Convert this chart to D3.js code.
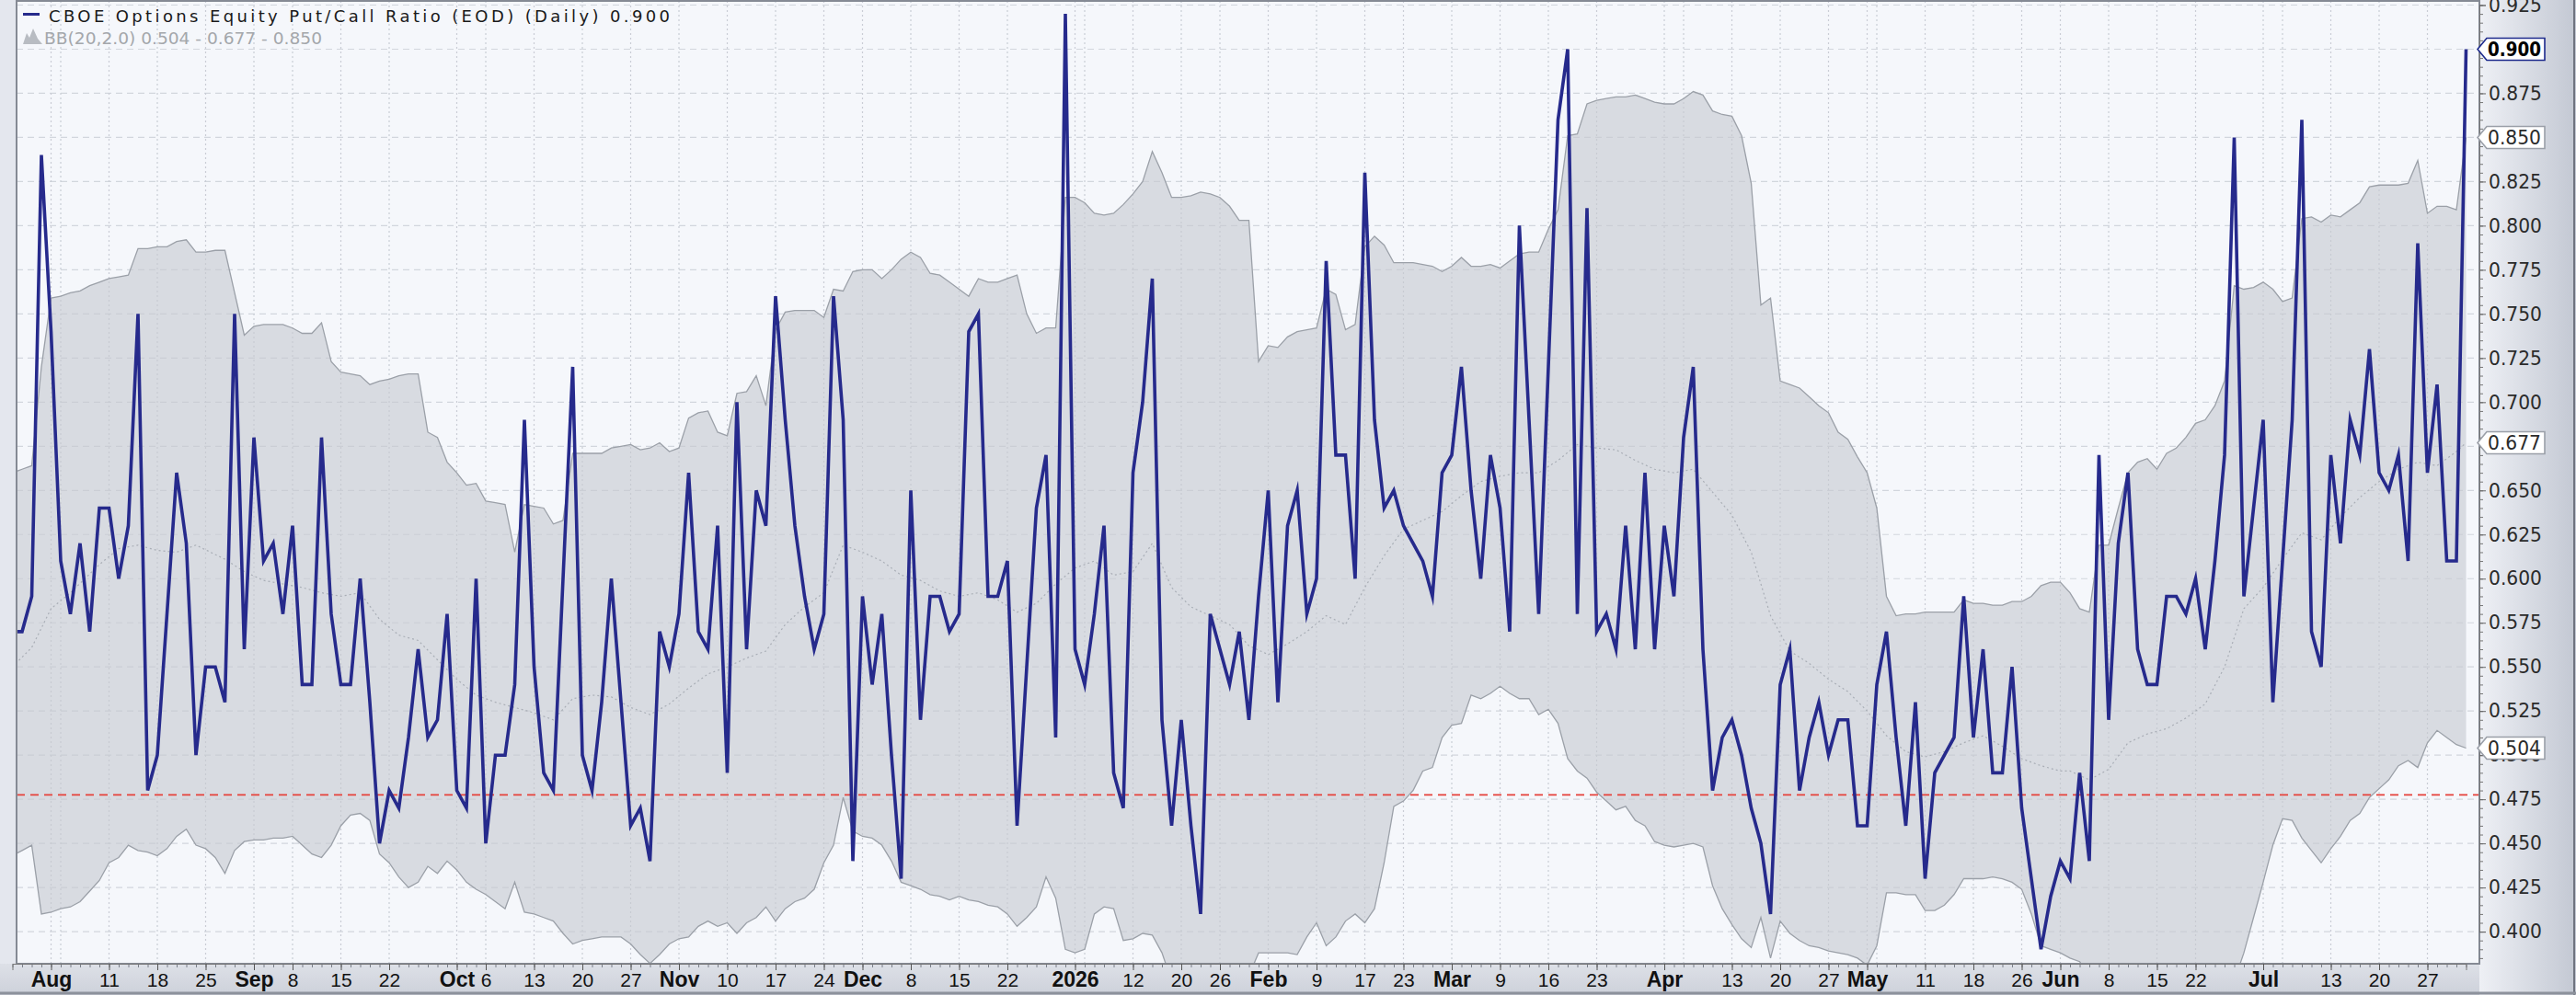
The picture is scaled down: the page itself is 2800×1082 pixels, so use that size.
<!DOCTYPE html>
<html>
<head>
<meta charset="utf-8">
<script src="https://cdn.jsdelivr.net/npm/d3@7"></script>
<style>
  body { margin: 0; background: #dfe2e9; }
  svg { display: block; }
</style>
</head>
<body>
<svg id="chart" width="2800" height="1082"></svg>
<script>
// daily equity put/call ratio, 28 Jul 2025 .. 31 Jul 2026 (trading days)
const ratio = [
  0.57,0.57,0.59,0.84,0.74,0.61,0.58,0.62,0.57,0.64, 0.64,0.60,0.63,0.75,0.48,0.50,0.58,0.66,0.62,0.50,
  0.55,0.55,0.53,0.75,0.56,0.68,0.61,0.62,0.58,0.63, 0.54,0.54,0.68,0.58,0.54,0.54,0.60,0.53,0.45,0.48,
  0.47,0.51,0.56,0.51,0.52,0.58,0.48,0.47,0.60,0.45, 0.50,0.50,0.54,0.69,0.55,0.49,0.48,0.60,0.72,0.50,
  0.48,0.53,0.60,0.53,0.46,0.47,0.44,0.57,0.55,0.58, 0.66,0.57,0.56,0.63,0.49,0.70,0.56,0.65,0.63,0.76,
  0.69,0.63,0.59,0.56,0.58,0.76,0.69,0.44,0.59,0.54, 0.58,0.50,0.43,0.65,0.52,0.59,0.59,0.57,0.58,0.74,
  0.75,0.59,0.59,0.61,0.46,0.55,0.64,0.67,0.51,0.92, 0.56,0.54,0.58,0.63,0.49,0.47,0.66,0.70,0.77,0.52,
  0.46,0.52,0.46,0.41,0.58,0.56,0.54,0.57,0.52,0.59, 0.65,0.53,0.63,0.65,0.58,0.60,0.78,0.67,0.67,0.60,
  0.83,0.69,0.64,0.65,0.63,0.62,0.61,0.59,0.66,0.67, 0.72,0.65,0.60,0.67,0.64,0.57,0.80,0.69,0.58,0.72,
  0.86,0.90,0.58,0.81,0.57,0.58,0.56,0.63,0.56,0.66, 0.56,0.63,0.59,0.68,0.72,0.56,0.48,0.51,0.52,0.50,
  0.47,0.45,0.41,0.54,0.56,0.48,0.51,0.53,0.50,0.52, 0.52,0.46,0.46,0.54,0.57,0.51,0.46,0.53,0.43,0.49,
  0.50,0.51,0.59,0.51,0.56,0.49,0.49,0.55,0.47,0.43, 0.39,0.42,0.44,0.43,0.49,0.44,0.67,0.52,0.62,0.66,
  0.56,0.54,0.54,0.59,0.59,0.58,0.60,0.56,0.61,0.67, 0.85,0.59,0.64,0.69,0.53,0.61,0.69,0.86,0.57,0.55,
  0.67,0.62,0.69,0.67,0.73,0.66,0.65,0.67,0.61,0.79, 0.66,0.71,0.61,0.61,0.90
];

// Bollinger band (20, 2.0)
const bbUpper = [
  0.660,0.662,0.664,0.720,0.759,0.760,0.762,0.763,0.766,0.768, 0.770,0.771,0.772,0.787,0.787,0.788,0.788,0.791,0.792,0.785,
  0.785,0.786,0.786,0.762,0.738,0.743,0.744,0.744,0.744,0.742, 0.739,0.739,0.745,0.723,0.717,0.716,0.715,0.710,0.712,0.713,
  0.715,0.716,0.716,0.683,0.680,0.666,0.660,0.653,0.654,0.644, 0.643,0.642,0.615,0.642,0.641,0.640,0.631,0.633,0.671,0.671,
  0.671,0.671,0.674,0.675,0.676,0.673,0.674,0.677,0.672,0.674, 0.691,0.694,0.695,0.683,0.681,0.705,0.706,0.715,0.698,0.741,
  0.751,0.752,0.752,0.752,0.748,0.764,0.763,0.774,0.775,0.775, 0.770,0.775,0.781,0.785,0.782,0.773,0.772,0.768,0.764,0.760,
  0.770,0.768,0.768,0.770,0.772,0.750,0.739,0.742,0.742,0.816, 0.816,0.813,0.807,0.806,0.807,0.812,0.818,0.825,0.842,0.830,
  0.816,0.816,0.817,0.819,0.818,0.816,0.811,0.803,0.803,0.723, 0.732,0.731,0.737,0.740,0.741,0.742,0.764,0.761,0.741,0.744,
  0.788,0.794,0.789,0.779,0.779,0.779,0.778,0.777,0.774,0.777, 0.782,0.777,0.777,0.778,0.776,0.780,0.784,0.785,0.785,0.798,
  0.809,0.851,0.852,0.869,0.871,0.872,0.873,0.873,0.874,0.872, 0.870,0.869,0.869,0.872,0.876,0.874,0.865,0.863,0.862,0.851,
  0.824,0.755,0.759,0.712,0.710,0.708,0.703,0.698,0.694,0.683, 0.679,0.669,0.660,0.640,0.590,0.579,0.580,0.580,0.581,0.581,
  0.581,0.581,0.588,0.586,0.586,0.585,0.585,0.587,0.587,0.590, 0.596,0.598,0.598,0.592,0.583,0.581,0.619,0.619,0.640,0.660,
  0.666,0.668,0.662,0.671,0.674,0.680,0.688,0.690,0.698,0.712, 0.766,0.764,0.765,0.768,0.764,0.757,0.759,0.804,0.805,0.802,
  0.806,0.805,0.809,0.813,0.822,0.823,0.823,0.823,0.824,0.837, 0.807,0.811,0.811,0.809,0.850
];
const bbLower = [
  0.443,0.446,0.449,0.410,0.411,0.413,0.414,0.417,0.423,0.429, 0.439,0.442,0.449,0.446,0.445,0.443,0.447,0.454,0.458,0.449,
  0.447,0.442,0.433,0.446,0.451,0.452,0.452,0.453,0.453,0.454, 0.449,0.444,0.442,0.449,0.460,0.466,0.467,0.463,0.444,0.439,
  0.431,0.425,0.428,0.437,0.433,0.440,0.435,0.428,0.424,0.421, 0.417,0.413,0.428,0.411,0.410,0.408,0.406,0.399,0.393,0.395,
  0.396,0.397,0.397,0.397,0.393,0.387,0.382,0.387,0.393,0.396, 0.397,0.403,0.406,0.403,0.405,0.399,0.405,0.408,0.414,0.406,
  0.413,0.417,0.419,0.424,0.439,0.449,0.476,0.457,0.454,0.453, 0.449,0.440,0.428,0.426,0.424,0.421,0.420,0.418,0.420,0.418,
  0.417,0.415,0.414,0.410,0.403,0.408,0.414,0.431,0.419,0.390, 0.388,0.390,0.410,0.414,0.413,0.395,0.396,0.399,0.398,0.388,
  0.372,0.365,0.360,0.355,0.355,0.360,0.365,0.370,0.375,0.388, 0.388,0.388,0.388,0.387,0.397,0.405,0.392,0.397,0.406,0.410,
  0.405,0.413,0.439,0.471,0.474,0.480,0.491,0.493,0.510,0.517, 0.518,0.534,0.532,0.535,0.539,0.535,0.532,0.532,0.523,0.526,
  0.518,0.498,0.491,0.487,0.479,0.474,0.469,0.471,0.463,0.460, 0.451,0.449,0.448,0.449,0.450,0.448,0.426,0.413,0.404,0.396,
  0.391,0.408,0.385,0.406,0.399,0.395,0.392,0.391,0.389,0.388, 0.387,0.385,0.381,0.392,0.422,0.422,0.421,0.421,0.412,0.412,
  0.415,0.421,0.430,0.430,0.430,0.431,0.430,0.428,0.424,0.410, 0.392,0.390,0.388,0.385,0.383,0.375,0.370,0.365,0.360,0.355,
  0.350,0.350,0.350,0.350,0.350,0.350,0.355,0.360,0.362,0.366, 0.372,0.388,0.408,0.428,0.449,0.464,0.463,0.453,0.446,0.439,
  0.447,0.454,0.463,0.467,0.476,0.481,0.486,0.494,0.497,0.493, 0.507,0.514,0.510,0.506,0.504
];
// middle band (SMA 20), read at fewer days
const bbMidIdx = [0,2,4,6,9,11,13,15,17,19,22,24,26,28,30,32,34,36,38,40,42,44,46,48,50,52,54,56,58,60,
  62,64,66,68,70,72,74,76,78,80,82,84,86,88,90,92,94,96,98,100,102,104,106,108,110,112,114,116,118,120,
  122,124,126,128,130,132,134,136,138,140,142,144,146,148,150,152,154,156,158,160,162,164,166,168,170,
  172,174,176,178,180,182,184,186,188,190,192,194,196,198,200,202,204,206,208,210,212,213,215,217,219,
  221,223,225,227,229,231,233,235,237,239,241,243,245,247,249,251,253,254];
const bbMid = [0.550,0.561,0.583,0.592,0.608,0.617,0.619,0.616,0.615,0.619,0.611,0.604,0.599,0.597,0.595,
  0.592,0.590,0.592,0.577,0.568,0.565,0.554,0.543,0.534,0.530,0.527,0.524,0.520,0.532,0.534,
  0.533,0.527,0.523,0.529,0.538,0.546,0.550,0.555,0.559,0.574,0.584,0.592,0.619,0.615,0.610,0.602,0.599,
  0.593,0.590,0.592,0.588,0.581,0.586,0.597,0.606,0.610,0.602,0.604,0.620,0.595,
  0.584,0.579,0.574,0.562,0.557,0.563,0.570,0.579,0.574,0.595,0.613,0.628,0.633,0.638,0.647,0.655,0.658,
  0.660,0.660,0.667,0.676,0.674,0.673,0.667,0.662,
  0.660,0.662,0.649,0.636,0.615,0.579,0.559,0.552,0.543,0.536,0.525,0.511,0.502,0.499,0.502,0.507,0.511,
  0.505,0.498,0.494,0.491,0.491,0.486,0.492,0.507,
  0.512,0.515,0.521,0.529,0.550,0.583,0.595,0.611,0.626,0.622,0.635,0.646,0.655,0.662,0.666,0.664,0.672,0.677];

// x-axis labels, as trading-day positions
const tickIdx = [4,10,15,20,25,29,34,39,46,49,54,59,64,69,74,79,84,88,93,98,103,110,116,121,125,
  130,135,140,144,149,154,159,164,171,178,183,188,192,198,203,208,212,217,222,226,233,240,245,250];
const tickLabels = ['Aug','11','18','25','Sep','8','15','22','Oct','6','13','20','27','Nov','10','17','24',
  'Dec','8','15','22','2026','12','20','26','Feb','9','17','23','Mar','9','16','23','Apr','13','20','27',
  'May','11','18','26','Jun','8','15','22','Jul','13','20','27'];
const unlabeledWeekIdx = [5,111,173,193,235];

const yTickVals = [0.400,0.425,0.450,0.475,0.500,0.525,0.550,0.575,0.600,0.625,0.650,0.675,
  0.700,0.725,0.750,0.775,0.800,0.825,0.850,0.875,0.900,0.925];
const refLevel = 0.4775;
const lastMarks = [
  {v: 0.900, txt: '0.900', main: true},
  {v: 0.850, txt: '0.850'},
  {v: 0.677, txt: '0.677'},
  {v: 0.504, txt: '0.504'}
];
const legendTitle = 'CBOE Options Equity Put/Call Ratio (EOD) (Daily) 0.900';
const legendBB = 'BB(20,2.0) 0.504 - 0.677 - 0.850';

const W = 2800, H = 1082;
const pl = 18, pr = 2695, pt = 1, pb = 1048;

const svg = d3.select('#chart');
const defs = svg.append('defs');

const gRight = defs.append('linearGradient').attr('id','gRight').attr('x1',0).attr('x2',1).attr('y1',0).attr('y2',0);
gRight.append('stop').attr('offset','0%').attr('stop-color','#eef0f5');
gRight.append('stop').attr('offset','100%').attr('stop-color','#c3c8d3');
const gBot = defs.append('linearGradient').attr('id','gBot').attr('x1',0).attr('x2',0).attr('y1',0).attr('y2',1);
gBot.append('stop').attr('offset','0%').attr('stop-color','#dde0e7');
gBot.append('stop').attr('offset','100%').attr('stop-color','#cdd1da');

defs.append('clipPath').attr('id','plotClip')
  .append('rect').attr('x',pl).attr('y',pt).attr('width',pr-pl).attr('height',pb-pt);

// outer panels
svg.append('rect').attr('width',W).attr('height',H).attr('fill','#e4e7ee');
svg.append('rect').attr('x',0).attr('y',pb).attr('width',W).attr('height',H-pb).attr('fill','url(#gBot)');
svg.append('rect').attr('x',pr).attr('y',0).attr('width',W-pr).attr('height',H).attr('fill','url(#gRight)');
svg.append('line').attr('x1',W-2).attr('x2',W-2).attr('y1',0).attr('y2',H).attr('stroke','#6f7480').attr('stroke-width',2);
svg.append('line').attr('x1',0).attr('x2',W).attr('y1',H-2).attr('y2',H-2).attr('stroke','#8d929c').attr('stroke-width',3);

// plot background
svg.append('rect').attr('x',pl).attr('y',pt).attr('width',pr-pl).attr('height',pb-pt).attr('fill','#f5f7fb');

const x = d3.scaleLinear().domain([0, ratio.length - 1]).range([13.5, 2680.5]);
const y = d3.scaleLinear().domain([0.400, 0.925]).range([1013.1, 5.5]);

// grid
const grid = svg.append('g').attr('clip-path','url(#plotClip)');
grid.selectAll('line.h').data(yTickVals).join('line')
  .attr('x1',pl).attr('x2',pr).attr('y1',d=>y(d)).attr('y2',d=>y(d))
  .attr('stroke','#d2d6dd').attr('stroke-width',1.2).attr('stroke-dasharray','7,5');
grid.selectAll('line.v').data(tickIdx.concat(unlabeledWeekIdx)).join('line')
  .attr('x1',d=>x(d)).attr('x2',d=>x(d)).attr('y1',pt).attr('y2',pb)
  .attr('stroke','#c9cdd5').attr('stroke-width',1.2).attr('stroke-dasharray','2,3');

// bollinger band
const plot = svg.append('g').attr('clip-path','url(#plotClip)');
plot.append('path').datum(ratio)
  .attr('d', d3.area().x((d,i)=>x(i)).y0((d,i)=>y(bbLower[i])).y1((d,i)=>y(bbUpper[i])))
  .attr('fill','#c6cad1').attr('fill-opacity',0.62);
[bbUpper, bbLower].forEach(s => {
  plot.append('path').datum(s)
    .attr('d', d3.line().x((d,i)=>x(i)).y(d=>y(d)))
    .attr('fill','none').attr('stroke','#9ba0a8').attr('stroke-width',1.3);
});
plot.append('path').datum(bbMid)
  .attr('d', d3.line().x((d,i)=>x(bbMidIdx[i])).y(d=>y(d)))
  .attr('fill','none').attr('stroke','#a9aeb6').attr('stroke-width',1.2).attr('stroke-dasharray','2,3');

// reference level
plot.append('line').attr('x1',pl).attr('x2',pr).attr('y1',y(refLevel)).attr('y2',y(refLevel))
  .attr('stroke','#e5413a').attr('stroke-width',1.6).attr('stroke-dasharray','9,6');

// main series
plot.append('path').datum(ratio)
  .attr('d', d3.line().x((d,i)=>x(i)).y(d=>y(d)))
  .attr('fill','none').attr('stroke','#262a8c').attr('stroke-width',3.6)
  .attr('stroke-linejoin','miter').attr('stroke-miterlimit',6);

// plot frame
svg.append('rect').attr('x',pl).attr('y',pt).attr('width',pr-pl).attr('height',pb-pt)
  .attr('fill','none').attr('stroke','#858a94').attr('stroke-width',2);

// right axis
const minorY = d3.range(0.385, 0.9276, 0.005);
svg.append('g').attr('transform',`translate(${pr},0)`)
  .call(d3.axisRight(y).tickValues(minorY).tickSize(4).tickFormat(''))
  .call(g => g.select('.domain').remove())
  .call(g => g.selectAll('line').attr('stroke','#777'));
const yAx = svg.append('g').attr('transform',`translate(${pr},0)`)
  .call(d3.axisRight(y).tickValues(yTickVals).tickSize(7).tickPadding(3).tickFormat(d3.format('.3f')));
yAx.select('.domain').attr('stroke','#777');
yAx.selectAll('line').attr('stroke','#666');
yAx.selectAll('text')
  .attr('font-family','DejaVu Sans, sans-serif').attr('font-size',21).attr('fill','#2b2b2b')
  .attr('textLength',58).attr('lengthAdjust','spacingAndGlyphs');

// last value markers
const mk = svg.append('g');
lastMarks.forEach(m => {
  const yy = y(m.v);
  mk.append('path')
    .attr('d',`M${pr-2},${yy} L${pr+8},${yy-12} L${pr+71},${yy-12} L${pr+71},${yy+12} L${pr+8},${yy+12} Z`)
    .attr('fill','#ffffff').attr('stroke', m.main ? '#1d2a8c' : '#9a9fa8').attr('stroke-width',1.6);
  mk.append('text').attr('x',pr+9).attr('y',yy+8).text(m.txt)
    .attr('font-family','DejaVu Sans, sans-serif').attr('font-size',21)
    .attr('font-weight', m.main ? 'bold' : 'normal').attr('fill', m.main ? '#000' : '#2b2b2b')
    .attr('textLength',58).attr('lengthAdjust','spacingAndGlyphs');
});

// bottom axis
svg.append('g').attr('transform',`translate(0,${pb})`)
  .call(d3.axisBottom(x).tickValues(d3.range(0, ratio.length)).tickSize(4).tickFormat(''))
  .call(g => g.select('.domain').remove())
  .call(g => g.selectAll('line').attr('stroke','#7a7f89'));
const isMonth = s => isNaN(+s) || s === '2026';
const xAx = svg.append('g').attr('transform',`translate(0,${pb})`)
  .call(d3.axisBottom(x).tickValues(tickIdx).tickSize(7).tickFormat((d,i)=>tickLabels[i]));
xAx.select('.domain').attr('stroke','#777');
xAx.selectAll('line').attr('stroke','#555');
xAx.selectAll('text')
  .attr('y',24.5).attr('dy',0)
  .attr('fill','#111')
  .attr('font-family','Liberation Sans, Arial, sans-serif')
  .attr('font-weight', d => isMonth(tickLabels[tickIdx.indexOf(d)]) ? 'bold' : 'normal')
  .attr('font-size', d => isMonth(tickLabels[tickIdx.indexOf(d)]) ? 23 : 21);

// legend
const lg = svg.append('g');
lg.append('line').attr('x1',25).attr('x2',43).attr('y1',15.5).attr('y2',15.5)
  .attr('stroke','#262a8c').attr('stroke-width',3);
lg.append('text').attr('x',53).attr('y',24).text(legendTitle)
  .attr('font-family','DejaVu Sans, sans-serif').attr('font-size',18).attr('fill','#1a1a1a')
  .attr('textLength',675).attr('lengthAdjust','spacing');
lg.append('path').attr('d','M25,48 L29,36 L32,41 L36,31 L41,42 L46,48 Z').attr('fill','#b8bcc2');
lg.append('text').attr('x',48).attr('y',48).text(legendBB)
  .attr('font-family','DejaVu Sans Condensed, DejaVu Sans, sans-serif').attr('font-size',18).attr('fill','#a4a7ab')
  .attr('textLength',302).attr('lengthAdjust','spacingAndGlyphs');
</script>
</body>
</html>
